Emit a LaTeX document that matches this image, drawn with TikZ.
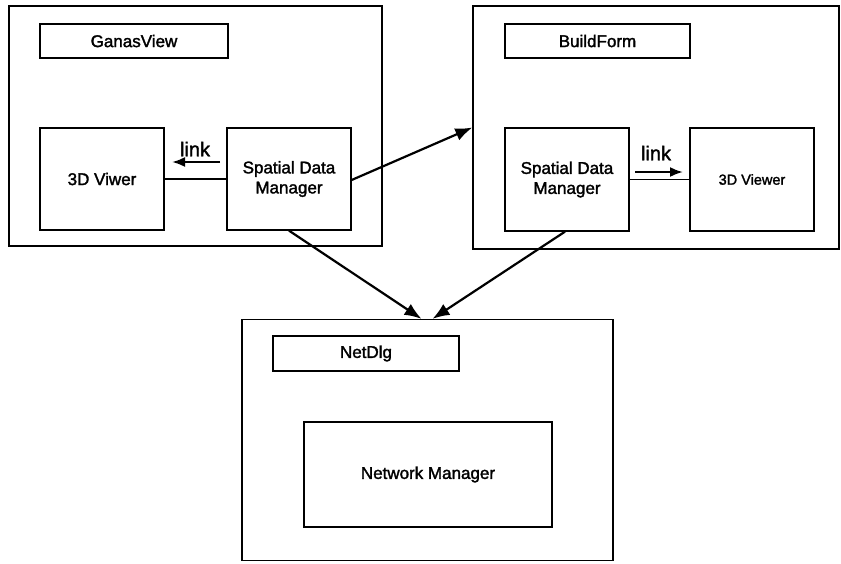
\documentclass[tikz,border=0pt]{standalone}
\usepackage{fontspec}
\setmainfont{Liberation Sans}[FakeBold=1.8]
\usetikzlibrary{arrows.meta}
\tikzset{
  box/.style={draw, line width=1.3pt, inner sep=0pt, align=center, font=\fontsize{17}{20}\selectfont},
  frame/.style={box},
  conn/.style={line width=1.3pt},
  flow/.style={line width=2.2pt, -{Latex[length=17pt,width=13pt]}},
  linkarrow/.style={line width=2.2pt, -{Latex[length=13pt,width=10pt]}},
  linklabel/.style={font=\fontsize{20}{22}\selectfont, inner sep=0pt},
}
\begin{document}
\begin{tikzpicture}[x=1pt, y=-1pt]
\useasboundingbox (0,0) rectangle (841,563);

% GanasView frame
\node[frame, minimum width=373pt, minimum height=240pt] (gv) at (195.5,126) {};
\node[box, minimum width=188pt, minimum height=34pt] (gvlabel) at (134,41) {GanasView};
\node[box, minimum width=124pt, minimum height=102pt] (viwer) at (102,179) {3D Viwer};
\node[box, minimum width=124pt, minimum height=102pt] (sdml) at (289,179) {Spatial Data\\Manager};

% BuildForm frame
\node[frame, minimum width=366pt, minimum height=243pt] (bf) at (656,127.5) {};
\node[box, minimum width=185pt, minimum height=34pt] (bflabel) at (597.5,41) {BuildForm};
\node[box, minimum width=124pt, minimum height=103pt] (sdmr) at (567,179.5) {Spatial Data\\Manager};
\node[box, minimum width=124pt, minimum height=103pt, font=\fontsize{14.5}{17}\selectfont] (viewer) at (752,179.5) {3D Viewer};

% NetDlg frame
\node[frame, minimum width=371pt, minimum height=241pt] (nd) at (427.5,440) {};
\node[box, minimum width=186pt, minimum height=35pt] (ndlabel) at (366,353.5) {NetDlg};
\node[box, minimum width=248pt, minimum height=105pt] (nm) at (428,474.5) {Network Manager};

% links inside the frames
\draw[conn] (sdml.west) -- (viwer.east);
\draw[conn] (sdmr.east) -- (viewer.west);
\coordinate (la1) at (220,162);
\coordinate (la2) at (172,162);
\draw[linkarrow] (la1) -- (la2);
\node[linklabel] (ll) at (195,149) {link};
\coordinate (lb1) at (635,172);
\coordinate (lb2) at (683,172);
\draw[linkarrow] (lb1) -- (lb2);
\node[linklabel] (lr) at (656,153) {link};

% connections between the frames
\draw[flow] ([yshift=-1pt]sdml.east) -- (bf.west);
\draw[flow] (sdml.south) -- ([xshift=-6pt]nd.north);
\draw[flow] ([xshift=-2pt]sdmr.south) -- ([xshift=5pt]nd.north);
\end{tikzpicture}
\end{document}
